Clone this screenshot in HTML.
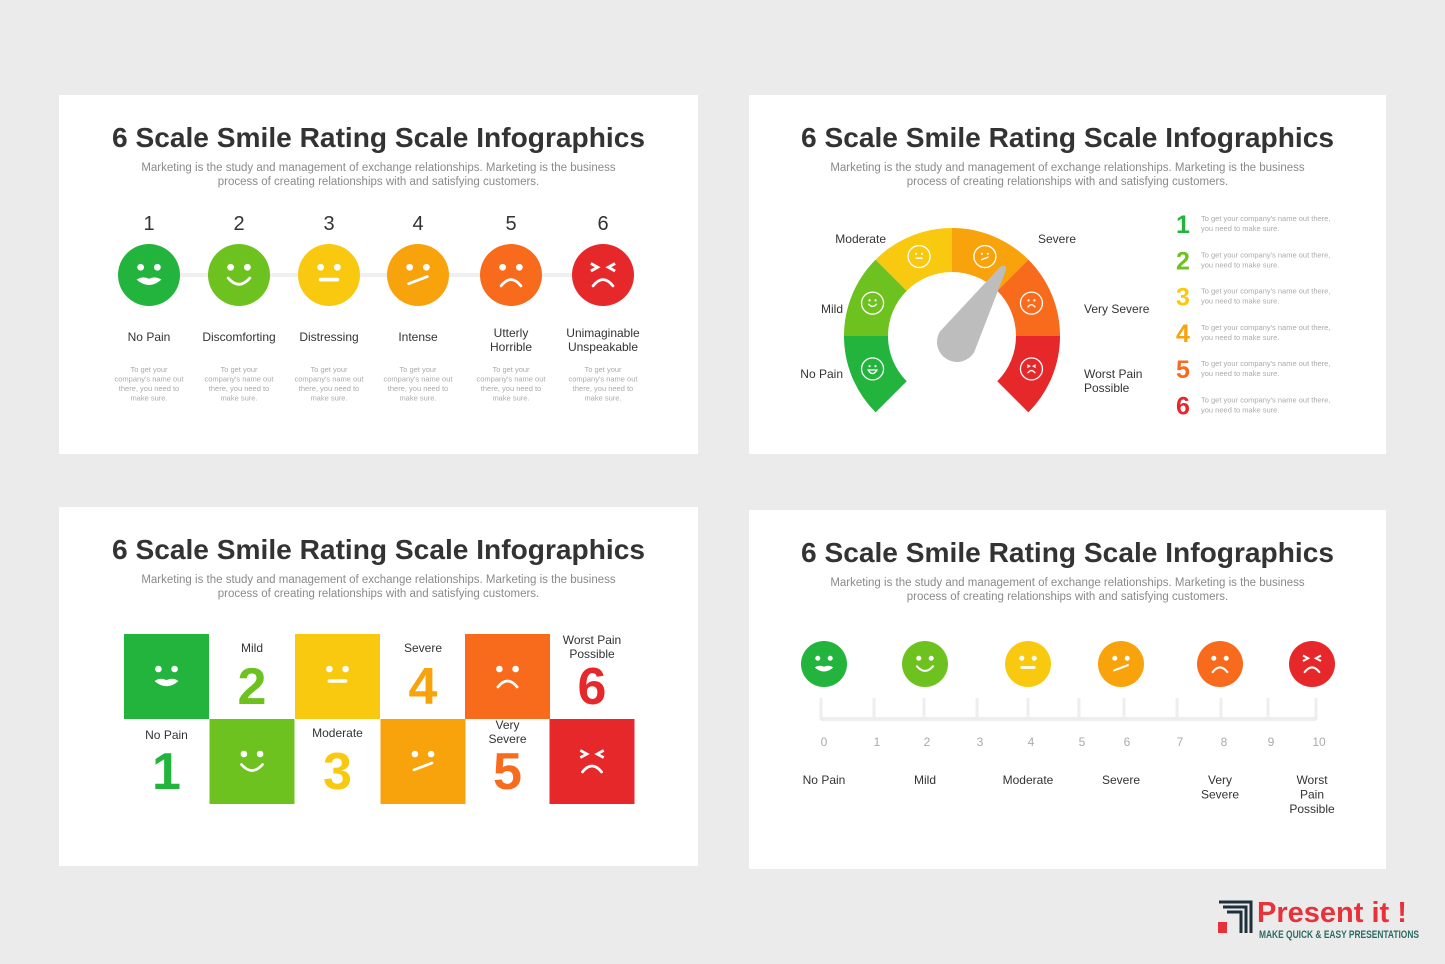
<!DOCTYPE html>
<html><head><meta charset="utf-8"><style>
html,body{margin:0;padding:0;background:#ebebeb;}
svg{display:block;font-family:"Liberation Sans",sans-serif;}
</style></head><body>
<svg id="s" width="1445" height="964" viewBox="0 0 1445 964" xmlns="http://www.w3.org/2000/svg">
<rect width="1445" height="964" fill="#ebebeb"/>
<g id="panels"></g>
</svg>
<script>
const colors=["#22b43c","#6ec21f","#f9c90f","#f8a20c","#f86a1c","#e6282b"];
const faceTypes=["grin","smile","flat","skew","frown","angry"];
const tlNumbers=["1","2","3","4","5","6"];
const tlLabels=[["No Pain"],["Discomforting"],["Distressing"],["Intense"],["Utterly","Horrible"],["Unimaginable","Unspeakable"]];
const gaugeLabels=["No Pain","Mild","Moderate","Severe","Very Severe","Worst Pain Possible"];
const gaugeValue=3.7;
const brLabels=[["No Pain"],["Mild"],["Moderate"],["Severe"],["Very","Severe"],["Worst","Pain","Possible"]];
const brTicks=["0","1","2","3","4","5","6","7","8","9","10"];
const gridLabels=[["No Pain"],["Mild"],["Moderate"],["Severe"],["Very","Severe"],["Worst Pain","Possible"]];

const NS="http://www.w3.org/2000/svg";
const root=document.getElementById('panels');
function el(tag,attrs,parent,txt){const e=document.createElementNS(NS,tag);for(const k in attrs)e.setAttribute(k,attrs[k]);if(txt!==undefined)e.textContent=txt;(parent||root).appendChild(e);return e;}

function face(g,cx,cy,r,type,fill,outline){
  el('circle',{cx,cy,r,fill:outline?'none':fill,stroke:outline?'#fff':'none','stroke-width':1.3},g);
  const w='#fff', sw=outline?1.3:Math.max(1.6,r*0.09);
  const ex=r*0.27, ey=r*0.25, er=outline?r*0.1:r*0.11;
  if(type==='angry'){
    el('path',{d:`M${cx-ex-r*.12},${cy-ey-r*.12} L${cx-ex+r*.1},${cy-ey} L${cx-ex-r*.12},${cy-ey+r*.12} M${cx+ex+r*.12},${cy-ey-r*.12} L${cx+ex-r*.1},${cy-ey} L${cx+ex+r*.12},${cy-ey+r*.12}`,stroke:w,'stroke-width':sw,fill:'none'},g);
  } else {
    el('circle',{cx:cx-ex,cy:cy-ey,r:er,fill:w},g);
    el('circle',{cx:cx+ex,cy:cy-ey,r:er,fill:w},g);
  }
  let d='';
  if(type==='grin'){ if(outline){d=`M${cx-r*.4},${cy+r*.1} Q${cx},${cy+r*.75} ${cx+r*.4},${cy+r*.1} Z`;el('path',{d,fill:'none',stroke:w,'stroke-width':sw},g);return;}
    d=`M${cx-r*.4},${cy+r*.15} Q${cx-r*.2},${cy+r*.02} ${cx},${cy+r*.12} Q${cx+r*.2},${cy+r*.02} ${cx+r*.4},${cy+r*.15} Q${cx},${cy+r*.5} ${cx-r*.4},${cy+r*.15}Z`;el('path',{d,fill:w},g);return;}
  if(type==='smile') d=`M${cx-r*.35},${cy+r*.1} Q${cx},${cy+r*.5} ${cx+r*.35},${cy+r*.1}`;
  if(type==='flat') d=`M${cx-r*.27},${cy+r*.15} L${cx+r*.27},${cy+r*.15}`;
  if(type==='skew') d=`M${cx-r*.3},${cy+r*.28} L${cx+r*.3},${cy+r*.05}`;
  if(type==='frown'||type==='angry') d=`M${cx-r*.32},${cy+r*.35} Q${cx},${cy-r*.05} ${cx+r*.32},${cy+r*.35}`;
  el('path',{d,fill:'none',stroke:w,'stroke-width':type==='flat'&&!outline?r*0.12:sw,'stroke-linecap':'round'},g);
}

function panel(name,x,y,w,h){
  const g=el('g',{});
  
  
  el('rect',{x,y,width:w,height:h,fill:'#fff'},g);
  const cx=x+w/2;
  const t=el('text',{x:cx,y:y+52,'text-anchor':'middle','font-size':28,'font-weight':'bold',fill:'#333',textLength:533,lengthAdjust:'spacingAndGlyphs'},g,'6 Scale Smile Rating Scale Infographics');
  
  
  const s1=el('text',{x:cx,y:y+76,'text-anchor':'middle','font-size':11.5,fill:'#8a8a8a'},g,'Marketing is the study and management of exchange relationships. Marketing is the business');
  
  
  el('text',{x:cx,y:y+90,'text-anchor':'middle','font-size':11.5,fill:'#8a8a8a'},g,'process of creating relationships with and satisfying customers.');
  return g;
}

/* Top-left */
{const g=panel('panel-horizontal-faces',59,95,639,359);
 const xs=[149,239,329,418,511,603];
 el('line',{x1:149,y1:275,x2:603,y2:275,stroke:'#efefef','stroke-width':4},g);
 tlNumbers.forEach((n,i)=>{
  const it=el('g',{},g);
  
  
  el('text',{x:xs[i],y:230,'text-anchor':'middle','font-size':20,fill:'#333'},it,n);
  face(it,xs[i],275,31,faceTypes[i],colors[i],false);
  const L=tlLabels[i];
  L.forEach((l,j)=>el('text',{x:xs[i],y:(L.length>1?337:341)+j*14,'text-anchor':'middle','font-size':12,fill:'#333'},it,l));
  ["To get your","company's name out","there, you need to","make sure."].forEach((l,j)=>el('text',{x:xs[i],y:372+j*9.5,'text-anchor':'middle','font-size':7.5,fill:'#aaa'},it,l));
 });}

/* Top-right gauge */
{const g=panel('panel-gauge',749,95,637,359);
 const cx=952,cy=336,ro=108,ri=64,rm=86;
 const P=(r,a)=>[cx+r*Math.cos(a*Math.PI/180),cy-r*Math.sin(a*Math.PI/180)];
 colors.forEach((c,i)=>{
  const a0=225-45*i,a1=180-45*i;
  const [x0,y0]=P(ro,a0),[x1,y1]=P(ro,a1),[x2,y2]=P(ri,a1),[x3,y3]=P(ri,a0);
  const seg=el('path',{d:`M${x0},${y0} A${ro},${ro} 0 0 1 ${x1},${y1} L${x2},${y2} A${ri},${ri} 0 0 0 ${x3},${y3}Z`,fill:c},g);
  
  
  const [fx,fy]=P(rm,(a0+a1)/2);
  face(g,fx,fy,11,faceTypes[i],c,true);
 });
 const na=225-45*gaugeValue;
 const bx=cx+5,by=cy+6;
 const Q=(r,a)=>[bx+r*Math.cos(a*Math.PI/180),by-r*Math.sin(a*Math.PI/180)];
 const [tx,ty]=Q(88,na),[bl1,bl2]=Q(20,na+90),[br1,br2]=Q(20,na-90);
 const nd=el('path',{d:`M${bl1},${bl2} L${tx-3},${ty} Q${tx+4},${ty-4} ${tx+3},${ty+3} L${br1},${br2} A20,20 0 0 1 ${bl1},${bl2}Z`,fill:'#bdbdbd'},g);
 
 
 const lp=[[843,378,'end'],[843,313,'end'],[886,243,'end'],[1038,243,'start'],[1084,313,'start'],[1084,378,'start']];
 gaugeLabels.forEach((l,i)=>{
  const parts=i===5?['Worst Pain','Possible']:[l];
  parts.forEach((p,j)=>el('text',{x:lp[i][0],y:lp[i][1]+j*14,'text-anchor':lp[i][2],'font-size':12,fill:'#333'},g,p));
 });
 tlNumbers.forEach((n,i)=>{
  const y=233+36.3*i;
  el('text',{x:1183,y,'text-anchor':'middle','font-size':25,'font-weight':'bold',fill:colors[i]},g,n);
  el('text',{x:1201,y:y-12,'font-size':7.5,fill:'#aaa'},g,"To get your company's name out there,");
  el('text',{x:1201,y:y-2,'font-size':7.5,fill:'#aaa'},g,'you need to make sure.');
 });}

/* Bottom-left grid */
{const g=panel('panel-grid',59,507,639,359);
 const cols=[124,209.5,295,380.5,465,549.5], w=85;
 const top=634, mid=719;
 colors.forEach((c,i)=>{
  const col=cols[i], sqTop=(i%2===0)?top:mid, lblTop=(i%2===0)?mid:top;
  const sq=el('g',{},g);
  
  
  el('rect',{x:col,y:sqTop,width:w,height:w,fill:c},sq);
  face(sq,col+w/2,sqTop+w/2,30,faceTypes[i],c,false);
  const L=gridLabels[i];
  L.forEach((l,j)=>el('text',{x:col+w/2,y:lblTop+(L.length>1?10:18)+j*14+(i===0?2:0),'text-anchor':'middle','font-size':12,fill:'#333'},sq,l));
  el('text',{x:col+w/2,y:lblTop+w-15,'text-anchor':'middle','font-size':52,'font-weight':'bold',fill:c},sq,String(i+1));
 });}

/* Bottom-right ruler */
{const g=panel('panel-ruler',749,510,637,359);
 const fx=[824,925,1028,1121,1220,1312];
 colors.forEach((c,i)=>{
  const it=el('g',{},g);
  
  
  face(it,fx[i],664,23,faceTypes[i],c,false);
  brLabels[i].forEach((l,j)=>el('text',{x:fx[i],y:784+j*14.5,'text-anchor':'middle','font-size':12,fill:'#333'},it,l));
 });
 const tickX=[821,874,924,977,1028,1079,1124,1177,1221,1268,1316];
 el('path',{d:`M${tickX[0]},719 L${tickX[10]},719`,stroke:'#eeeeee','stroke-width':4},g);
 brTicks.forEach((t,i)=>{
  el('line',{x1:tickX[i],y1:698,x2:tickX[i],y2:720,stroke:'#eeeeee','stroke-width':3},g);
  el('text',{x:tickX[i]+3,y:746,'text-anchor':'middle','font-size':12,fill:'#aaa'},g,t);
 });}

/* Logo */
{const g=el('g',{});
 
 
 el('path',{d:'M1219,902 H1251 V933 M1223,907 H1246 V933 M1227,912 H1241 V933',stroke:'#1e2f3a','stroke-width':3,fill:'none'},g);
 el('rect',{x:1218,y:922,width:9,height:11,fill:'#e8323a'},g);
 el('text',{x:1257,y:922,'font-size':29,'font-weight':'bold',fill:'#e8323a'},g,'Present it !');
 el('text',{x:1259,y:938,'font-size':11,'font-weight':'bold',fill:'#2d6b63',textLength:160,lengthAdjust:'spacingAndGlyphs'},g,'MAKE QUICK & EASY PRESENTATIONS');}
</script>
</body></html>
